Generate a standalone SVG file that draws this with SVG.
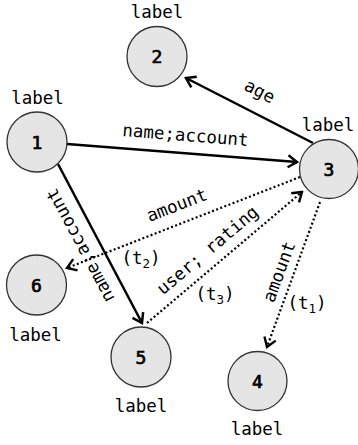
<svg xmlns="http://www.w3.org/2000/svg" width="358" height="445" viewBox="0 0 358 445">
<defs>
<style>
.node circle{fill:#e5e5e5;stroke:#333;stroke-width:1.3}
.num{font-family:"DejaVu Sans Mono","Liberation Mono",monospace;font-size:18px;font-weight:normal;stroke:#000;stroke-width:0.7;text-anchor:middle;fill:#000}
.lbl{font-family:"DejaVu Sans Mono","Liberation Mono",monospace;font-size:17.5px;text-anchor:middle;fill:#000}
.solid{stroke:#000;stroke-width:2.5;fill:none;marker-end:url(#arr)}
.dot{stroke:#000;stroke-width:2.2;fill:none;stroke-dasharray:2 2.4;marker-end:url(#arr2)}
.sub{font-size:12.5px}
</style>
<marker id="arr" markerUnits="userSpaceOnUse" viewBox="-12 -8 14 16" refX="0" refY="0" markerWidth="14" markerHeight="16" orient="auto">
<path d="M-9,-6 L0,0 L-9,6" fill="none" stroke="#000" stroke-width="2.5" stroke-linejoin="miter"/>
</marker>
<marker id="arr2" markerUnits="userSpaceOnUse" viewBox="-12 -8 14 16" refX="0" refY="0" markerWidth="14" markerHeight="16" orient="auto">
<path d="M-9,-6 L0,0 L-9,6" fill="none" stroke="#000" stroke-width="2.4" stroke-linejoin="miter"/>
</marker>
</defs>
<g id="connectors">
<line class="solid" x1="67" y1="144" x2="297" y2="162"/>
<line class="solid" x1="313" y1="143" x2="186" y2="78"/>
<line class="solid" x1="58" y1="164" x2="142" y2="323"/>
<line class="dot" x1="300" y1="177" x2="67" y2="268"/>
<line class="dot" x1="147" y1="323" x2="302" y2="192"/>
<line class="dot" x1="320" y1="202" x2="267" y2="347"/>
<text class="lbl" transform="translate(185,141) rotate(4.5)">name;account</text>
<text class="lbl" transform="translate(257,96.5) rotate(27)">age</text>
<text class="lbl" transform="translate(85.4,242.7) rotate(-118)">name;account</text>
<text class="lbl" transform="translate(179,210.6) rotate(-21.3)">amount</text>
<text class="lbl" x="141" y="264">(t<tspan class="sub" dy="4">2</tspan><tspan dy="-4">)</tspan></text>
<text class="lbl" transform="translate(211.3,254.7) rotate(-40.2)">user; rating</text>
<text class="lbl" x="215" y="300">(t<tspan class="sub" dy="4">3</tspan><tspan dy="-4">)</tspan></text>
<text class="lbl" transform="translate(284.6,273.8) rotate(-69.7)">amount</text>
<text class="lbl" x="307" y="309">(t<tspan class="sub" dy="4">1</tspan><tspan dy="-4">)</tspan></text>
</g>
<g id="node1" class="node"><circle cx="37" cy="142" r="30"/><text class="num" x="37" y="148.5">1</text><text class="lbl" x="37.5" y="104">label</text></g>
<g id="node2" class="node"><circle cx="157" cy="56.5" r="30"/><text class="num" x="157" y="63">2</text><text class="lbl" x="157" y="18">label</text></g>
<g id="node3" class="node"><circle cx="329" cy="169" r="29.5"/><text class="num" x="329" y="175.5">3</text><text class="lbl" x="328" y="130.5">label</text></g>
<g id="node4" class="node"><circle cx="257.5" cy="381" r="29.5"/><text class="num" x="257.5" y="387.5">4</text><text class="lbl" x="257" y="435">label</text></g>
<g id="node5" class="node"><circle cx="141" cy="357" r="30"/><text class="num" x="141" y="363.5">5</text><text class="lbl" x="141" y="411.5">label</text></g>
<g id="node6" class="node"><circle cx="36.5" cy="285" r="30"/><text class="num" x="36.5" y="291.5">6</text><text class="lbl" x="35.5" y="340.5">label</text></g>
</svg>
